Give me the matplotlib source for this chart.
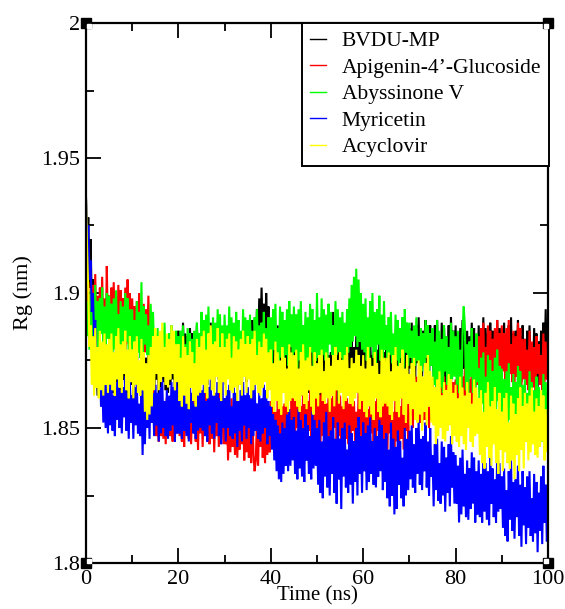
import numpy as np
import matplotlib
matplotlib.use('Agg')
import matplotlib.pyplot as plt
import matplotlib.transforms as mtrans
from matplotlib.lines import Line2D
from matplotlib.ticker import FuncFormatter, MultipleLocator

# ---------------- data (Rg in nm, every 0.25 ns) -------------
TIME_NS = np.arange(0, 100.125, 0.25)

NAMES = ["BVDU-MP", "Apigenin-4\u2019-Glucoside", "Abyssinone V", "Myricetin", "Acyclovir"]
COLORS = ["#000000", "#ff0000", "#00ff00", "#0000ff", "#ffff00"]

BVDU_MP = [
    1.935,1.918,1.928,1.902,1.920,1.896,1.905,1.882,1.866,1.878,1.862,1.876,1.868,1.880,1.863,1.874,1.866,1.882,1.870,1.864,
    1.880,1.865,1.882,1.863,1.876,1.861,1.881,1.867,1.884,1.864,1.878,1.862,1.879,1.868,1.883,1.863,1.877,1.860,1.881,1.866,
    1.877,1.861,1.880,1.866,1.882,1.863,1.874,1.862,1.881,1.864,1.879,1.859,1.876,1.865,1.880,1.861,1.883,1.867,1.878,1.858,
    1.883,1.868,1.880,1.862,1.882,1.865,1.885,1.867,1.877,1.864,1.881,1.863,1.879,1.866,1.884,1.868,1.882,1.862,1.878,1.865,
    1.886,1.873,1.883,1.871,1.889,1.873,1.885,1.872,1.884,1.870,1.887,1.876,1.885,1.873,1.882,1.871,1.888,1.873,1.885,1.874,
    1.885,1.870,1.887,1.868,1.881,1.866,1.886,1.872,1.889,1.869,1.883,1.867,1.884,1.873,1.888,1.868,1.882,1.865,1.886,1.871,
    1.879,1.866,1.881,1.870,1.883,1.868,1.876,1.867,1.882,1.868,1.880,1.864,1.878,1.869,1.881,1.866,1.884,1.871,1.880,1.867,
    1.884,1.870,1.886,1.872,1.890,1.876,1.888,1.878,1.894,1.880,1.898,1.882,1.902,1.884,1.896,1.880,1.900,1.885,1.895,1.879,
    1.886,1.871,1.883,1.865,1.885,1.868,1.888,1.870,1.880,1.867,1.884,1.866,1.882,1.869,1.887,1.871,1.885,1.865,1.881,1.868,
    1.880,1.863,1.876,1.861,1.883,1.864,1.879,1.862,1.877,1.860,1.881,1.867,1.878,1.863,1.874,1.861,1.882,1.864,1.879,1.865,
    1.879,1.864,1.881,1.862,1.875,1.860,1.880,1.866,1.883,1.863,1.877,1.861,1.878,1.867,1.893,1.862,1.876,1.859,1.880,1.865,
    1.881,1.863,1.884,1.868,1.886,1.865,1.877,1.864,1.885,1.866,1.883,1.861,1.880,1.867,1.884,1.863,1.887,1.870,1.882,1.864,
    1.882,1.870,1.880,1.865,1.881,1.868,1.884,1.869,1.877,1.867,1.880,1.866,1.879,1.868,1.883,1.870,1.881,1.865,1.878,1.868,
    1.882,1.869,1.879,1.867,1.885,1.869,1.881,1.868,1.880,1.866,1.883,1.872,1.881,1.869,1.877,1.867,1.884,1.869,1.881,1.870,
    1.887,1.872,1.889,1.870,1.883,1.868,1.888,1.874,1.891,1.871,1.885,1.869,1.886,1.875,1.890,1.870,1.884,1.867,1.888,1.873,
    1.885,1.869,1.888,1.874,1.890,1.871,1.882,1.870,1.889,1.872,1.887,1.867,1.884,1.873,1.888,1.869,1.891,1.875,1.886,1.870,
    1.888,1.873,1.885,1.867,1.887,1.870,1.890,1.872,1.882,1.869,1.886,1.868,1.884,1.871,1.889,1.873,1.887,1.867,1.883,1.870,
    1.888,1.871,1.884,1.869,1.891,1.872,1.887,1.870,1.885,1.868,1.889,1.875,1.886,1.871,1.882,1.869,1.890,1.872,1.887,1.873,
    1.887,1.872,1.889,1.870,1.883,1.868,1.888,1.874,1.891,1.871,1.885,1.869,1.886,1.875,1.890,1.870,1.884,1.867,1.888,1.873,
    1.883,1.867,1.886,1.872,1.888,1.869,1.880,1.868,1.887,1.870,1.885,1.865,1.882,1.871,1.886,1.867,1.889,1.873,1.894,1.872,
    1.878]

APIGENIN = [
    1.900,1.886,1.904,1.884,1.897,1.882,1.903,1.888,1.907,1.884,1.899,1.881,1.902,1.887,1.906,1.883,1.898,1.880,1.910,1.886,
    1.899,1.881,1.902,1.886,1.904,1.883,1.895,1.882,1.903,1.884,1.901,1.879,1.898,1.885,1.902,1.881,1.905,1.888,1.900,1.882,
    1.898,1.883,1.895,1.877,1.897,1.880,1.900,1.882,1.892,1.879,1.896,1.878,1.894,1.881,1.899,1.883,1.890,1.876,1.868,1.858,
    1.860,1.847,1.857,1.845,1.863,1.847,1.859,1.846,1.858,1.844,1.861,1.850,1.859,1.847,1.855,1.845,1.862,1.847,1.859,1.848,
    1.860,1.847,1.862,1.845,1.857,1.843,1.861,1.848,1.864,1.846,1.858,1.844,1.859,1.849,1.863,1.845,1.857,1.842,1.861,1.848,
    1.859,1.843,1.862,1.848,1.864,1.845,1.856,1.844,1.863,1.846,1.861,1.841,1.858,1.847,1.862,1.843,1.865,1.849,1.860,1.844,
    1.859,1.844,1.856,1.838,1.858,1.841,1.861,1.843,1.853,1.840,1.857,1.839,1.855,1.842,1.860,1.844,1.858,1.838,1.854,1.841,
    1.856,1.839,1.852,1.837,1.859,1.840,1.834,1.838,1.853,1.836,1.857,1.843,1.854,1.839,1.850,1.837,1.858,1.840,1.855,1.841,
    1.860,1.845,1.862,1.843,1.856,1.841,1.861,1.847,1.864,1.844,1.858,1.842,1.859,1.848,1.863,1.843,1.857,1.840,1.861,1.846,
    1.861,1.845,1.864,1.850,1.866,1.847,1.858,1.846,1.865,1.848,1.863,1.843,1.860,1.849,1.864,1.845,1.867,1.851,1.862,1.846,
    1.865,1.850,1.862,1.844,1.864,1.847,1.867,1.849,1.859,1.846,1.863,1.845,1.861,1.848,1.866,1.850,1.864,1.844,1.860,1.847,
    1.862,1.845,1.858,1.843,1.865,1.846,1.861,1.844,1.859,1.842,1.863,1.849,1.860,1.845,1.856,1.843,1.864,1.846,1.861,1.847,
    1.862,1.845,1.864,1.843,1.857,1.841,1.863,1.848,1.866,1.844,1.860,1.842,1.861,1.849,1.865,1.843,1.858,1.840,1.863,1.846,
    1.860,1.842,1.863,1.848,1.865,1.844,1.856,1.843,1.864,1.845,1.862,1.840,1.858,1.846,1.863,1.842,1.866,1.849,1.861,1.843,
    1.867,1.855,1.865,1.850,1.866,1.853,1.869,1.854,1.862,1.852,1.865,1.851,1.864,1.853,1.868,1.855,1.866,1.850,1.863,1.853,
    1.868,1.855,1.865,1.853,1.871,1.855,1.867,1.854,1.866,1.852,1.869,1.858,1.867,1.855,1.863,1.853,1.870,1.855,1.867,1.856,
    1.868,1.856,1.870,1.855,1.865,1.853,1.869,1.858,1.872,1.856,1.867,1.854,1.868,1.859,1.871,1.855,1.874,1.862,1.878,1.866,
    1.884,1.866,1.887,1.872,1.889,1.868,1.880,1.867,1.888,1.869,1.886,1.864,1.883,1.870,1.887,1.866,1.890,1.873,1.885,1.867,
    1.888,1.871,1.885,1.865,1.887,1.868,1.890,1.870,1.881,1.867,1.886,1.866,1.884,1.869,1.889,1.871,1.887,1.865,1.883,1.868,
    1.883,1.866,1.879,1.864,1.886,1.867,1.882,1.865,1.880,1.863,1.884,1.870,1.881,1.866,1.877,1.864,1.885,1.867,1.882,1.868,
    1.875]

ABYSSINONE_V = [
    1.900,1.884,1.897,1.879,1.901,1.881,1.899,1.884,1.903,1.880,1.897,1.879,1.898,1.885,1.902,1.880,1.895,1.878,1.900,1.883,
    1.899,1.882,1.896,1.876,1.898,1.879,1.901,1.881,1.892,1.878,1.897,1.877,1.895,1.880,1.900,1.882,1.898,1.876,1.894,1.879,
    1.894,1.877,1.890,1.875,1.897,1.878,1.893,1.876,1.904,1.874,1.895,1.881,1.892,1.877,1.888,1.875,1.896,1.878,1.893,1.879,
    1.885,1.873,1.887,1.872,1.882,1.870,1.886,1.875,1.889,1.873,1.884,1.871,1.885,1.876,1.888,1.872,1.883,1.869,1.886,1.874,
    1.884,1.871,1.886,1.875,1.888,1.873,1.881,1.872,1.887,1.873,1.885,1.869,1.883,1.874,1.886,1.871,1.889,1.876,1.885,1.872,
    1.893,1.878,1.890,1.872,1.892,1.875,1.895,1.877,1.887,1.874,1.891,1.873,1.889,1.876,1.894,1.878,1.892,1.872,1.888,1.875,
    1.892,1.875,1.888,1.873,1.895,1.876,1.891,1.874,1.889,1.872,1.893,1.879,1.890,1.875,1.886,1.873,1.894,1.876,1.891,1.877,
    1.890,1.875,1.892,1.873,1.886,1.871,1.891,1.877,1.894,1.874,1.888,1.872,1.889,1.878,1.893,1.873,1.887,1.870,1.891,1.876,
    1.891,1.873,1.894,1.879,1.896,1.875,1.887,1.874,1.895,1.876,1.893,1.871,1.890,1.877,1.894,1.873,1.897,1.880,1.892,1.874,
    1.895,1.878,1.892,1.872,1.894,1.875,1.897,1.877,1.888,1.874,1.893,1.873,1.891,1.876,1.896,1.878,1.894,1.872,1.890,1.875,
    1.900,1.876,1.891,1.874,1.898,1.877,1.894,1.875,1.892,1.873,1.896,1.881,1.893,1.877,1.888,1.874,1.897,1.877,1.894,1.878,
    1.891,1.876,1.893,1.874,1.889,1.873,1.894,1.878,1.898,1.880,1.903,1.882,1.906,1.884,1.909,1.880,1.905,1.882,1.900,1.879,
    1.896,1.878,1.898,1.875,1.891,1.873,1.897,1.880,1.900,1.876,1.893,1.874,1.894,1.881,1.899,1.875,1.892,1.872,1.897,1.879,
    1.888,1.872,1.891,1.877,1.893,1.874,1.885,1.873,1.892,1.875,1.890,1.870,1.887,1.876,1.891,1.872,1.894,1.878,1.889,1.873,
    1.889,1.876,1.886,1.870,1.888,1.873,1.891,1.875,1.884,1.872,1.887,1.871,1.885,1.874,1.890,1.876,1.888,1.870,1.885,1.873,
    1.887,1.866,1.882,1.864,1.890,1.868,1.886,1.865,1.883,1.863,1.888,1.871,1.884,1.866,1.880,1.864,1.889,1.868,1.886,1.869,
    1.884,1.866,1.886,1.863,1.879,1.861,1.885,1.895,1.888,1.864,1.881,1.862,1.882,1.869,1.887,1.863,1.880,1.860,1.885,1.867,
    1.872,1.853,1.876,1.859,1.878,1.855,1.869,1.854,1.877,1.857,1.875,1.851,1.871,1.858,1.876,1.853,1.879,1.860,1.873,1.854,
    1.872,1.854,1.868,1.847,1.871,1.850,1.874,1.853,1.865,1.849,1.870,1.848,1.867,1.852,1.873,1.854,1.871,1.847,1.866,1.850,
    1.868,1.847,1.863,1.845,1.871,1.849,1.867,1.846,1.864,1.844,1.869,1.852,1.865,1.847,1.861,1.845,1.870,1.849,1.867,1.850,
    1.858]

MYRICETIN = [
    1.935,1.915,1.925,1.905,1.912,1.893,1.900,1.884,1.890,1.872,1.880,1.862,1.876,1.858,1.870,1.852,1.868,1.850,1.866,1.848,
    1.866,1.851,1.868,1.849,1.862,1.847,1.867,1.853,1.870,1.850,1.864,1.848,1.865,1.854,1.869,1.849,1.863,1.846,1.867,1.852,
    1.862,1.846,1.865,1.851,1.867,1.848,1.859,1.847,1.866,1.840,1.864,1.844,1.861,1.850,1.865,1.846,1.868,1.852,1.863,1.847,
    1.866,1.851,1.863,1.845,1.865,1.848,1.868,1.850,1.860,1.847,1.864,1.846,1.862,1.849,1.867,1.851,1.865,1.845,1.870,1.848,
    1.865,1.848,1.861,1.846,1.868,1.849,1.864,1.847,1.862,1.845,1.866,1.852,1.863,1.848,1.859,1.846,1.867,1.849,1.864,1.850,
    1.864,1.849,1.866,1.847,1.860,1.845,1.865,1.851,1.868,1.848,1.862,1.846,1.863,1.852,1.867,1.847,1.861,1.844,1.868,1.850,
    1.861,1.845,1.864,1.850,1.866,1.847,1.858,1.846,1.865,1.848,1.863,1.843,1.860,1.849,1.864,1.845,1.867,1.851,1.862,1.846,
    1.865,1.850,1.862,1.844,1.864,1.847,1.867,1.849,1.859,1.846,1.863,1.845,1.861,1.848,1.866,1.850,1.864,1.844,1.860,1.847,
    1.858,1.842,1.855,1.838,1.853,1.834,1.851,1.831,1.848,1.830,1.852,1.833,1.850,1.836,1.855,1.834,1.857,1.836,1.853,1.838,
    1.854,1.833,1.849,1.831,1.857,1.835,1.853,1.832,1.850,1.830,1.855,1.838,1.851,1.833,1.847,1.831,1.856,1.835,1.853,1.836,
    1.850,1.829,1.853,1.826,1.845,1.824,1.852,1.832,1.856,1.828,1.847,1.825,1.849,1.833,1.854,1.826,1.846,1.822,1.852,1.831,
    1.846,1.820,1.850,1.832,1.852,1.828,1.842,1.826,1.851,1.829,1.848,1.822,1.845,1.830,1.850,1.825,1.854,1.833,1.847,1.826,
    1.852,1.834,1.848,1.827,1.851,1.830,1.854,1.833,1.845,1.829,1.850,1.828,1.847,1.832,1.853,1.834,1.851,1.827,1.846,1.830,
    1.848,1.824,1.842,1.821,1.852,1.825,1.846,1.818,1.843,1.820,1.849,1.829,1.845,1.824,1.839,1.821,1.850,1.825,1.846,1.827,
    1.849,1.831,1.851,1.828,1.844,1.826,1.850,1.833,1.853,1.829,1.846,1.827,1.847,1.834,1.852,1.828,1.845,1.825,1.850,1.832,
    1.840,1.821,1.844,1.827,1.846,1.823,1.837,1.822,1.845,1.825,1.843,1.819,1.839,1.826,1.844,1.821,1.847,1.828,1.841,1.822,
    1.840,1.822,1.836,1.815,1.839,1.818,1.842,1.821,1.833,1.817,1.838,1.816,1.835,1.820,1.841,1.822,1.839,1.815,1.834,1.818,
    1.838,1.817,1.833,1.815,1.841,1.819,1.837,1.816,1.834,1.814,1.839,1.822,1.835,1.817,1.831,1.815,1.840,1.819,1.837,1.820,
    1.832,1.813,1.835,1.810,1.827,1.808,1.834,1.816,1.838,1.812,1.830,1.809,1.831,1.817,1.836,1.810,1.829,1.806,1.834,1.814,
    1.828,1.807,1.832,1.813,1.834,1.810,1.824,1.808,1.833,1.811,1.830,1.804,1.826,1.812,1.832,1.807,1.836,1.815,1.829,1.808,
    1.816]

ACYCLOVIR = [
    1.935,1.915,1.900,1.880,1.888,1.866,1.884,1.862,1.887,1.865,1.880,1.861,1.886,1.864,1.882,1.862,1.885,1.866,1.881,1.863,
    1.883,1.866,1.885,1.864,1.878,1.862,1.884,1.868,1.887,1.865,1.881,1.863,1.882,1.870,1.886,1.864,1.879,1.861,1.884,1.867,
    1.879,1.861,1.882,1.866,1.884,1.863,1.875,1.862,1.883,1.864,1.878,1.856,1.874,1.853,1.877,1.855,1.880,1.858,1.884,1.864,
    1.887,1.870,1.884,1.864,1.886,1.867,1.889,1.869,1.880,1.866,1.885,1.865,1.883,1.868,1.888,1.870,1.886,1.864,1.881,1.867,
    1.881,1.860,1.876,1.858,1.884,1.862,1.880,1.859,1.877,1.857,1.882,1.865,1.878,1.860,1.874,1.858,1.883,1.862,1.880,1.863,
    1.884,1.866,1.886,1.863,1.879,1.861,1.885,1.868,1.888,1.864,1.881,1.862,1.882,1.869,1.887,1.863,1.880,1.860,1.885,1.867,
    1.880,1.862,1.883,1.868,1.885,1.864,1.876,1.863,1.884,1.865,1.882,1.860,1.879,1.866,1.883,1.862,1.886,1.869,1.881,1.863,
    1.884,1.868,1.881,1.861,1.883,1.864,1.886,1.866,1.877,1.863,1.882,1.862,1.880,1.865,1.885,1.867,1.883,1.861,1.878,1.864,
    1.879,1.858,1.874,1.856,1.882,1.860,1.878,1.857,1.875,1.855,1.880,1.863,1.876,1.858,1.872,1.856,1.881,1.860,1.878,1.861,
    1.877,1.860,1.879,1.858,1.872,1.856,1.878,1.862,1.881,1.859,1.875,1.857,1.876,1.864,1.880,1.858,1.873,1.855,1.878,1.861,
    1.874,1.858,1.877,1.863,1.879,1.860,1.871,1.859,1.878,1.861,1.876,1.856,1.873,1.862,1.877,1.858,1.880,1.864,1.875,1.859,
    1.878,1.863,1.875,1.857,1.877,1.860,1.880,1.862,1.872,1.859,1.876,1.858,1.874,1.861,1.879,1.863,1.877,1.857,1.873,1.860,
    1.877,1.856,1.872,1.854,1.880,1.858,1.876,1.855,1.873,1.853,1.878,1.861,1.874,1.856,1.870,1.854,1.879,1.858,1.876,1.859,
    1.876,1.858,1.878,1.855,1.871,1.853,1.877,1.860,1.880,1.856,1.873,1.854,1.874,1.861,1.879,1.855,1.872,1.852,1.877,1.859,
    1.870,1.851,1.874,1.857,1.876,1.853,1.867,1.852,1.875,1.855,1.873,1.849,1.869,1.856,1.874,1.851,1.877,1.858,1.871,1.852,
    1.869,1.851,1.865,1.844,1.868,1.847,1.871,1.850,1.862,1.846,1.867,1.845,1.864,1.849,1.870,1.851,1.868,1.844,1.863,1.847,
    1.866,1.845,1.861,1.843,1.869,1.847,1.865,1.844,1.862,1.842,1.867,1.850,1.863,1.845,1.859,1.843,1.868,1.847,1.865,1.848,
    1.861,1.840,1.864,1.837,1.856,1.835,1.863,1.843,1.867,1.839,1.858,1.836,1.860,1.844,1.865,1.837,1.857,1.833,1.863,1.842,
    1.856,1.834,1.861,1.841,1.863,1.837,1.852,1.835,1.862,1.838,1.859,1.831,1.855,1.840,1.861,1.834,1.865,1.842,1.858,1.835,
    1.863,1.845,1.859,1.838,1.862,1.841,1.865,1.844,1.856,1.840,1.861,1.839,1.858,1.843,1.864,1.845,1.862,1.838,1.857,1.841,
    1.855]

SERIES = [BVDU_MP, APIGENIN, ABYSSINONE_V, MYRICETIN, ACYCLOVIR]

X_TICKS = [0, 20, 40, 60, 80, 100]
Y_TICKS = [1.8, 1.85, 1.9, 1.95, 2.0]

# ---------------- figure -------------
plt.rcParams['font.family'] = ['Liberation Serif', 'DejaVu Serif']

fig = plt.figure(figsize=(5.65, 6.09), dpi=100)
ax = fig.add_axes([86 / 565, 46 / 609, 462 / 565, 540 / 609])

for name, vals, col in zip(NAMES, SERIES, COLORS):
    n = min(len(vals), len(TIME_NS))
    ax.plot(TIME_NS[:n], vals[:n], color=col, lw=1.5, solid_joinstyle='miter', zorder=2)

ax.set_xlim(0, 100)
ax.set_ylim(1.8, 2.0)
ax.set_xticks(X_TICKS)
ax.set_yticks(Y_TICKS)
ax.xaxis.set_minor_locator(MultipleLocator(10))
ax.yaxis.set_minor_locator(MultipleLocator(0.025))
ax.yaxis.set_major_formatter(FuncFormatter(lambda v, p: '%g' % round(v, 3)))
ax.xaxis.set_major_formatter(FuncFormatter(lambda v, p: '%g' % v))

ax.tick_params(which='both', direction='in', top=True, right=True, width=1.3,
               colors='black', labelsize=16)
ax.tick_params(which='major', length=11)
ax.tick_params(which='minor', length=6)
ax.tick_params(axis='x', pad=5)
ax.tick_params(axis='y', pad=4)
for s in ax.spines.values():
    s.set_linewidth(1.6)
    s.set_zorder(5)

ax.set_ylabel('Rg (nm)', fontsize=16)
ax.yaxis.set_label_coords(-0.115, 0.5)
ax.set_xlabel('Time (ns)', fontsize=15)
ax.xaxis.set_label_coords(0.5, -0.043)

# Grace-style corner handles
for cx, cy in [(0, 0), (1, 0), (0, 1), (1, 1)]:
    ax.plot([cx], [cy], marker='s', ms=7.5, color='k', transform=ax.transAxes,
            clip_on=False, zorder=10)
    dx = 2.5 if cx == 0 else -2.5
    dy = 2.5 if cy == 0 else -2.5
    tr = mtrans.offset_copy(ax.transAxes, fig=fig, x=dx, y=dy, units='dots')
    ax.plot([cx], [cy], marker='s', ms=2.6, color='white', mec='white',
            transform=tr, clip_on=False, zorder=11)

handles = [Line2D([], [], color=c, lw=1.0) for c in COLORS]
leg = ax.legend(handles, NAMES, loc='upper right', bbox_to_anchor=(1.003, 1.0),
                borderaxespad=0, fancybox=False, framealpha=1, edgecolor='black',
                fontsize=15.5, handlelength=0.7, handletextpad=0.75,
                labelspacing=0.3, borderpad=0.38)
leg.get_frame().set_linewidth(1.4)
leg.set_zorder(8)

fig.savefig('out.png', dpi=100)
